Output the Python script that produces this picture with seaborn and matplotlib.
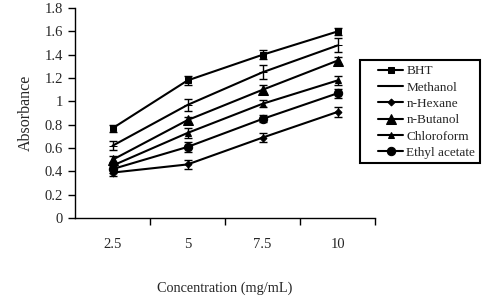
import numpy as np
import pandas as pd
import matplotlib.pyplot as plt
from matplotlib.patches import Rectangle
import seaborn as sns

conc = ['2.5', '5', '7.5', '10']
solvents = ['BHT', 'Methanol', 'n-Hexane', 'n-Butanol', 'Chloroform', 'Ethyl acetate']

bht = [0.77, 1.18, 1.40, 1.60]
methanol = [0.62, 0.97, 1.25, 1.48]
hexane = [0.39, 0.46, 0.69, 0.91]
butanol = [0.50, 0.84, 1.10, 1.35]
chloroform = [0.45, 0.73, 0.98, 1.18]
ethyl = [0.42, 0.61, 0.85, 1.07]

bht_err = [0.03, 0.04, 0.04, 0.03]
methanol_err = [0.04, 0.05, 0.06, 0.06]
hexane_err = [0.03, 0.04, 0.04, 0.04]
butanol_err = [0.03, 0.03, 0.04, 0.03]
chloroform_err = [0.03, 0.04, 0.03, 0.04]
ethyl_err = [0.03, 0.04, 0.03, 0.04]

values = [bht, methanol, hexane, butanol, chloroform, ethyl]
errors = [bht_err, methanol_err, hexane_err, butanol_err, chloroform_err, ethyl_err]

rows = []
for name, vals, errs in zip(solvents, values, errors):
    for i, (v, e) in enumerate(zip(vals, errs)):
        rows.append({'Solvent': name, 'x': i, 'Conc': conc[i], 'Absorbance': v, 'err': e})
df = pd.DataFrame(rows)

sns.set_style('white')
plt.rcParams['font.family'] = ['Liberation Serif', 'DejaVu Serif']

fig = plt.figure(figsize=(4.84, 3.0), dpi=100)
ax = fig.add_axes([0.155, 0.273, 0.62, 0.700])

markers = {'BHT': 's', 'Methanol': '_', 'n-Hexane': 'D', 'n-Butanol': '^',
           'Chloroform': '^', 'Ethyl acetate': 'o'}
sizes = {'BHT': 4.5, 'Methanol': 6, 'n-Hexane': 3.5, 'n-Butanol': 7,
         'Chloroform': 5, 'Ethyl acetate': 6}

for name in solvents:
    sub = df[df['Solvent'] == name]
    sns.lineplot(data=sub, x='x', y='Absorbance', ax=ax, color='black', lw=1.5,
                 marker=markers[name], markersize=sizes[name], markeredgecolor='black',
                 label=name)
    ax.errorbar(sub['x'], sub['Absorbance'], yerr=sub['err'], fmt='none',
                ecolor='black', elinewidth=1, capsize=3, capthick=1)

ax.set_xlim(-0.5, 3.5)
ax.set_ylim(0, 1.8)
ax.set_yticks(np.arange(0, 1.81, 0.2))
ax.set_yticklabels(['0', '0.2', '0.4', '0.6', '0.8', '1', '1.2', '1.4', '1.6', '1.8'])
ax.set_xticks([0.5, 1.5, 2.5, 3.5])
ax.set_xticklabels([])
ax.set_xticks(range(4), minor=True)
ax.set_xticklabels(conc, minor=True)
ax.tick_params(axis='x', which='major', direction='out', length=5, width=1, bottom=True, color='black')
ax.tick_params(axis='x', which='minor', length=0, pad=14, labelsize=10.5)
ax.tick_params(axis='y', direction='out', length=5, width=1, left=True, labelsize=10.5, color='black')

for s in ['top', 'right']:
    ax.spines[s].set_visible(False)
for s in ['left', 'bottom']:
    ax.spines[s].set_color('black')
    ax.spines[s].set_linewidth(1)

ax.set_xlabel('Concentration (mg/mL)', fontsize=10.3, labelpad=22)
ax.set_ylabel('Absorbance', fontsize=11.5, labelpad=8)

leg = ax.legend(loc='upper left', bbox_to_anchor=(378 / 484, 1 - 65 / 300),
                bbox_transform=fig.transFigure, frameon=False,
                fontsize=9.5, handlelength=1.9, handletextpad=0.25, labelspacing=0.31,
                borderpad=0, borderaxespad=0)
fig.patches.append(Rectangle((360 / 484, 1 - 163 / 300), 120 / 484, 103 / 300,
                             transform=fig.transFigure, fill=False,
                             edgecolor='black', lw=1.5))

fig.savefig('out.png', dpi=100)
